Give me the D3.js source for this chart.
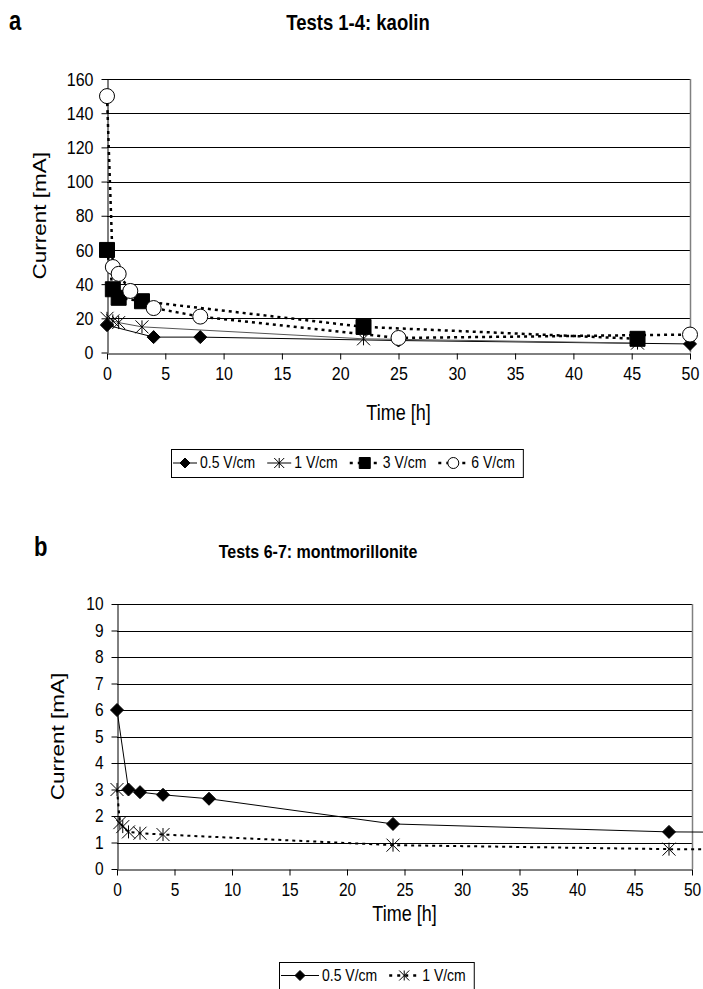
<!DOCTYPE html>
<html><head><meta charset="utf-8">
<script src="https://cdn.jsdelivr.net/npm/d3@7"></script>
<style>
body{margin:0;background:#fff;}
svg{display:block;font-family:"Liberation Sans",Arial,sans-serif;}
</style></head>
<body>
<svg id="chart" width="703" height="989"></svg>
<script>
// ---- Data: panel a (kaolin) ----
const aTime05 = [0, 4, 8, 25, 50];
const aCur05  = [16, 9, 9, 7, 5];
const aTime1  = [0, 0.5, 1, 3, 22, 45.5];
const aCur1   = [20, 18.5, 17.5, 15, 8, 5.5];
const aTime3  = [0, 0.5, 1, 3, 22, 45.5];
const aCur3   = [60, 37, 32, 30, 15, 8];
const aTime6  = [0, 0.5, 1, 2, 4, 8, 25, 50];
const aCur6   = [150, 50, 46, 36, 26, 21, 8.5, 10.5];
const aYTicks = [0, 20, 40, 60, 80, 100, 120, 140, 160];
const xTicks  = [0, 5, 10, 15, 20, 25, 30, 35, 40, 45, 50];

// ---- Data: panel b (montmorillonite) ----
const bTime05 = [0, 1, 2, 4, 8, 24, 48, 72];
const bCur05  = [6, 3.0, 2.9, 2.8, 2.65, 1.7, 1.4, 1.35];
const bTime1  = [0, 0.25, 0.5, 1, 2, 4, 24, 48, 72];
const bCur1   = [3, 1.75, 1.6, 1.4, 1.35, 1.3, 0.9, 0.75, 0.7];
const bYTicks = [0, 1, 2, 3, 4, 5, 6, 7, 8, 9, 10];

const svg = d3.select("#chart");

function markerPath(type, s) {
  const p = d3.path();
  if (type === "diamond") {
    p.moveTo(0, -s/2); p.lineTo(s/2, 0); p.lineTo(0, s/2); p.lineTo(-s/2, 0); p.closePath();
  } else if (type === "square") {
    p.rect(-s/2, -s/2, s, s);
  } else if (type === "circle") {
    p.arc(0, 0, s/2, 0, 2*Math.PI);
  } else if (type === "star") {
    const h = s/2;
    p.moveTo(-h, -h); p.lineTo(h, h);
    p.moveTo(-h, h); p.lineTo(h, -h);
    p.moveTo(0, -h); p.lineTo(0, h);
  }
  return p.toString();
}

function drawMarker(g, type, x, y, size) {
  const fill = type === "circle" ? "#fff" : (type === "star" ? "none" : "#000");
  g.append("path").attr("d", markerPath(type, size))
    .attr("transform", `translate(${x},${y})`)
    .attr("fill", fill).attr("stroke", "#000").attr("stroke-width", 1);
}

// horizontal text, stretched vertically by k (baseline stays at y)
function sText(g, x, y, str, size, k, opts = {}) {
  const t = g.append("text")
    .attr("transform", `translate(${x},${y}) scale(1,${k})`)
    .attr("font-size", size).attr("text-anchor", opts.anchor || "start")
    .attr("font-weight", opts.bold ? "bold" : null).text(str);
  return t;
}

function panel(cfg) {
  const g = svg.append("g");
  const x = d3.scaleLinear().domain([0, 50]).range([cfg.left, cfg.right]);
  const y = d3.scaleLinear().domain([0, cfg.yMax]).range([cfg.bottom, cfg.top]);
  const k = cfg.stretch;

  // gridlines
  g.append("g").selectAll("line").data(cfg.yTicks.filter(d => d > 0)).join("line")
    .attr("x1", cfg.left).attr("x2", cfg.right)
    .attr("y1", d => Math.round(y(d)) + 0.5).attr("y2", d => Math.round(y(d)) + 0.5)
    .attr("stroke", "#000").attr("stroke-width", 1);
  // right border (gray)
  g.append("line").attr("x1", cfg.right + 0.5).attr("x2", cfg.right + 0.5)
    .attr("y1", cfg.top).attr("y2", cfg.bottom).attr("stroke", "#808080").attr("stroke-width", 1.5);

  // axes
  const xAxis = d3.axisBottom(x).tickValues(xTicks).tickSize(6).tickSizeOuter(0).tickPadding(cfg.xPad);
  const gx = g.append("g").attr("transform", `translate(0,${Math.round(cfg.bottom)+0.5})`).call(xAxis);
  gx.selectAll("text").attr("font-size", cfg.tickFont).attr("fill", "#000")
    .attr("font-family", "Liberation Sans, Arial, sans-serif")
    .attr("transform", `scale(1,${k})`);
  gx.selectAll("line,path").attr("stroke", "#000");

  const yAxis = d3.axisLeft(y).tickValues(cfg.yTicks).tickSize(6).tickSizeOuter(0).tickPadding(cfg.yPad);
  const gy = g.append("g").attr("transform", `translate(${Math.round(cfg.left)+0.5},0)`).call(yAxis);
  gy.selectAll("text").attr("font-size", cfg.tickFont).attr("fill", "#000")
    .attr("font-family", "Liberation Sans, Arial, sans-serif")
    .attr("transform", `scale(1,${k})`);
  gy.selectAll("line,path").attr("stroke", "#000");

  // clip
  const clipId = "clip" + cfg.id;
  svg.append("clipPath").attr("id", clipId).append("rect")
    .attr("x", cfg.left - 10).attr("y", cfg.top - 10)
    .attr("width", cfg.right - cfg.left + 10 + cfg.clipExtra).attr("height", cfg.bottom - cfg.top + 20);

  const plot = g.append("g").attr("clip-path", `url(#${clipId})`);
  cfg.series.forEach(s => {
    const pts = s.t.map((t, i) => [t, s.v[i]]);
    plot.append("path").datum(pts)
      .attr("d", d3.line().x(d => x(d[0])).y(d => y(d[1])))
      .attr("fill", "none").attr("stroke", s.color)
      .attr("stroke-width", s.width).attr("stroke-dasharray", s.dash || null);
  });
  cfg.series.forEach(s => {
    s.t.forEach((t, i) => {
      if (t <= 50) drawMarker(plot, s.marker, x(t), y(s.v[i]), s.size);
    });
  });

  // labels
  sText(g, cfg.letterX, cfg.letterY, cfg.letter, 22, 1.25, {bold: true});
  sText(g, cfg.titleX, cfg.titleY, cfg.title, cfg.titleFont, k, {bold: true, anchor: "middle"});
  sText(g, (cfg.left + cfg.right) / 2, cfg.xTitleY, "Time [h]", 18, k, {anchor: "middle"});
  g.append("text")
    .attr("transform", `translate(${cfg.yTitleX},${(cfg.top + cfg.bottom)/2}) rotate(-90) scale(${cfg.yTitleStretch},1)`)
    .attr("text-anchor", "middle").attr("font-size", 18).text("Current [mA]");

  // legend
  const lg = g.append("g");
  const ly = cfg.legY + cfg.legH / 2;
  let cx = cfg.legX + 2;
  cfg.series.forEach(s => {
    const seg = s.dash ? cfg.segDash : cfg.segSolid;
    lg.append("line").attr("x1", cx).attr("x2", cx + seg).attr("y1", ly).attr("y2", ly)
      .attr("stroke", "#000").attr("stroke-width", s.dash ? 2.5 : 1)
      .attr("stroke-dasharray", s.dash ? "3,5" : null);
    drawMarker(lg, s.marker, cx + seg/2, ly, s.legSize);
    const t = sText(lg, cx + seg + 3, ly + 5, s.name, 14, 1.15);
    cx += seg + 3 + t.node().getComputedTextLength() + 12;
  });
  lg.insert("rect", ":first-child").attr("x", cfg.legX + 0.5).attr("y", cfg.legY + 0.5)
    .attr("width", cx - cfg.legX - 4).attr("height", cfg.legH)
    .attr("fill", "#fff").attr("stroke", "#000").attr("stroke-width", 1);
}

panel({
  id: "a", left: 107, right: 690, top: 79, bottom: 352.5, yMax: 160, yTicks: aYTicks, clipExtra: 12,
  stretch: 1.2, tickFont: 16, xPad: 5, yPad: 8,
  letter: "a", letterX: 9, letterY: 30, title: "Tests 1-4: kaolin", titleFont: 18.5, titleX: 358, titleY: 30,
  xTitleY: 420, yTitleX: 46, yTitleStretch: 1.25,
  legX: 171, legY: 449, legH: 28, segSolid: 24, segDash: 30,
  series: [
    {name: "0.5 V/cm", t: aTime05, v: aCur05, marker: "diamond", size: 13, legSize: 10, color: "#000", width: 1},
    {name: "1 V/cm", t: aTime1, v: aCur1, marker: "star", size: 13, legSize: 10, color: "#555", width: 1},
    {name: "3 V/cm", t: aTime3, v: aCur3, marker: "square", size: 15, legSize: 11, color: "#000", width: 2.5, dash: "3,4"},
    {name: "6 V/cm", t: aTime6, v: aCur6, marker: "circle", size: 15, legSize: 11, color: "#000", width: 2.5, dash: "3,4"}
  ]
});

panel({
  id: "b", left: 117, right: 692, top: 604, bottom: 869, yMax: 10, yTicks: bYTicks, clipExtra: 12,
  stretch: 1.2, tickFont: 15.5, xPad: 5, yPad: 8,
  letter: "b", letterX: 34, letterY: 556, title: "Tests 6-7: montmorillonite", titleFont: 16, titleX: 318, titleY: 558,
  xTitleY: 921, yTitleX: 64, yTitleStretch: 1.25,
  legX: 279, legY: 962, legH: 27, segSolid: 38, segDash: 30,
  series: [
    {name: "0.5 V/cm", t: bTime05, v: bCur05, marker: "diamond", size: 13, legSize: 10, color: "#000", width: 1},
    {name: "1 V/cm", t: bTime1, v: bCur1, marker: "star", size: 13, legSize: 10, color: "#000", width: 2, dash: "3,4"}
  ]
});
</script>
</body></html>
